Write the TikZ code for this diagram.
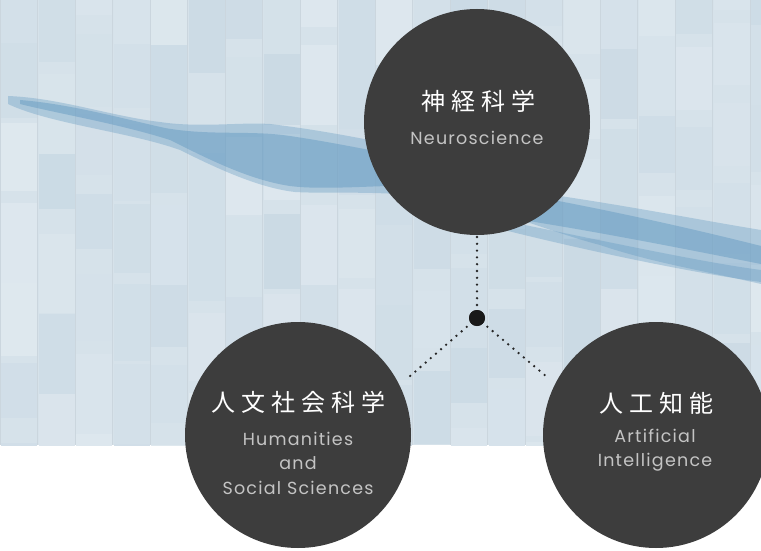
\documentclass[tikz,border=0pt]{standalone}
\usepackage{fontspec}
\setmainfont{Poppins}[LetterSpace=7]
\newfontfamily\jp[LetterSpace=25]{Noto Sans CJK JP}
\definecolor{tileA}{HTML}{C8D8E3}
\definecolor{tileB}{HTML}{E1EAF0}
\definecolor{basebg}{HTML}{D6E2EA}
\definecolor{streak}{HTML}{5F97C0}
\definecolor{disc}{HTML}{3D3D3D}
\definecolor{engtext}{HTML}{C4C4C4}
\tikzset{
  disc/.style={circle, fill=disc, minimum size=226pt, inner sep=0pt},
  jptext/.style={text=white, font=\jp\fontsize{24}{28}\selectfont, inner sep=0pt},
  entext/.style={text=engtext, font=\fontsize{17.5}{24.5}\selectfont, inner sep=0pt, align=center},
  dotline/.style={line width=2.6pt, line cap=round, dash pattern=on 0pt off 6.8pt, draw=black!85},
  hubdot/.style={circle, fill=black!90, minimum size=16pt, inner sep=0pt}
}
\begin{document}
\begin{tikzpicture}[x=1pt,y=-1pt]
\useasboundingbox (0,0) rectangle (761,551);
\fill[white] (0,0) rectangle (761,551);
% textured background
\begin{scope}
\clip (0,0) rectangle (761,445);
\fill[basebg] (0,0) rectangle (761,445);
\pgfmathsetseed{11}
\foreach \i in {0,...,20}{
  \pgfmathrandominteger{\off}{0}{60}
  \foreach \j in {0,...,6}{
    \pgfmathrandominteger{\s}{10}{90}
    \pgfmathrandominteger{\h}{55}{95}
    \fill[tileA!\s!tileB] (\i*37.5+1,\j*80-\off) rectangle (\i*37.5+37,\j*80-\off+\h);
  }
  \draw[tileA!70!gray, opacity=0.3, line width=0.8pt] (\i*37.5,0) -- (\i*37.5,445);
}
% blue streak, soft outer layer
\fill[streak, opacity=0.35]
  (8,96) .. controls (60,98) and (110,116) .. (160,122)
  .. controls (200,128) and (240,122) .. (270,124)
  .. controls (320,130) and (360,138) .. (420,150)
  .. controls (480,165) and (520,190) .. (560,196)
  .. controls (640,208) and (700,220) .. (761,230)
  -- (761,284)
  .. controls (700,270) and (650,262) .. (600,245)
  .. controls (560,235) and (500,210) .. (440,198)
  .. controls (380,190) and (330,194) .. (295,192)
  .. controls (260,188) and (220,170) .. (180,150)
  .. controls (130,132) and (50,124) .. (8,104) -- cycle;
% darker core
\fill[streak, opacity=0.45]
  (20,100) .. controls (70,104) and (120,118) .. (165,128)
  .. controls (210,136) and (250,130) .. (290,136)
  .. controls (330,142) and (370,150) .. (420,160)
  -- (420,185)
  .. controls (370,186) and (320,190) .. (290,186)
  .. controls (250,180) and (210,160) .. (170,140)
  .. controls (120,124) and (60,114) .. (20,104) -- cycle;
\fill[streak, opacity=0.45]
  (510,192) .. controls (600,208) and (690,228) .. (761,246)
  -- (761,264)
  .. controls (690,250) and (600,232) .. (510,218) -- cycle;
\fill[streak, opacity=0.35]
  (500,220) .. controls (600,240) and (700,262) .. (761,270)
  -- (761,282)
  .. controls (700,274) and (600,254) .. (500,229) -- cycle;
\end{scope}
% circles
\node[disc] (neuro) at (477,122) {};
\node[disc] (hum) at (298,435) {};
\node[disc] (ai) at (656,435) {};
% hub and connectors
\node[hubdot] (hub) at (477,318) {};
\coordinate (topend) at (477,237);
\coordinate (leftend) at (409,377);
\coordinate (rightend) at (547,377);
\draw[dotline] (topend) -- (hub.center);
\draw[dotline] (hub.center) -- (leftend);
\draw[dotline] (hub.center) -- (rightend);
\node[hubdot] at (hub) {};
% texts
\node[jptext] (neuroJ) at (478,101) {神経科学};
\node[entext] (neuroE) at (477,138) {Neuroscience};
\node[jptext] (humJ) at (298,402) {人文社会科学};
\node[entext] (humE) at (298,463) {Humanities\\and\\Social Sciences};
\node[jptext] (aiJ) at (656,403) {人工知能};
\node[entext] (aiE) at (655,450) {Artificial\\Intelligence};
\end{tikzpicture}
\end{document}
